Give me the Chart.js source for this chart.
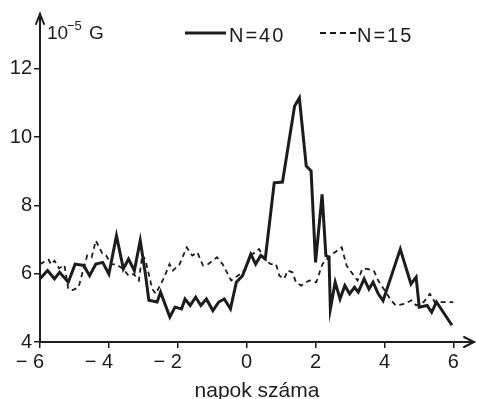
<!DOCTYPE html>
<html>
<head>
<meta charset="utf-8">
<script src="https://cdn.jsdelivr.net/npm/chart.js@4/dist/chart.umd.min.js"></script>
<style>
  html, body { margin: 0; padding: 0; background: #fff; }
  #wrap { width: 477px; height: 399px; position: relative; }
</style>
</head>
<body>
<div id="wrap"><canvas id="chart"></canvas></div>
<script>
const ink = "#1c1c1c";
const fontFamily = "'Liberation Sans', Arial, sans-serif";

// N=40 (solid line), days vs 10^-5 G
const days40 = [-6.00, -5.78, -5.58, -5.43, -5.18, -4.98, -4.73, -4.56, -4.38, -4.18, -4.00, -3.78, -3.58, -3.43, -3.26, -3.09, -2.94, -2.84, -2.60, -2.50, -2.23, -2.08, -1.89, -1.79, -1.64, -1.48, -1.33, -1.17, -0.98, -0.81, -0.65, -0.47, -0.30, -0.12, 0.12, 0.26, 0.41, 0.54, 0.80, 1.04, 1.39, 1.53, 1.73, 1.87, 2.00, 2.19, 2.30, 2.39, 2.43, 2.57, 2.71, 2.85, 2.99, 3.13, 3.24, 3.41, 3.55, 3.67, 3.82, 3.96, 4.46, 4.77, 4.92, 5.01, 5.24, 5.37, 5.51, 5.96];
const values40 = [5.85, 6.09, 5.85, 6.04, 5.75, 6.28, 6.24, 5.94, 6.28, 6.33, 5.99, 7.11, 6.14, 6.43, 6.09, 6.97, 5.99, 5.22, 5.17, 5.46, 4.73, 5.02, 4.97, 5.26, 5.07, 5.31, 5.07, 5.26, 4.92, 5.17, 5.26, 4.97, 5.75, 5.94, 6.57, 6.28, 6.53, 6.43, 8.66, 8.68, 10.90, 11.14, 9.15, 9.01, 6.33, 8.32, 6.53, 6.48, 4.97, 5.75, 5.26, 5.65, 5.41, 5.60, 5.46, 5.85, 5.55, 5.75, 5.41, 5.21, 6.72, 5.70, 5.90, 5.02, 5.07, 4.87, 5.17, 4.49];

// N=15 (dashed line)
const days15 = [-6.00, -5.75, -5.68, -5.58, -5.45, -5.29, -5.18, -5.05, -4.88, -4.78, -4.63, -4.50, -4.38, -4.28, -4.18, -4.08, -3.93, -3.79, -3.58, -3.43, -3.28, -3.13, -3.03, -2.94, -2.74, -2.64, -2.39, -2.24, -2.14, -1.95, -1.74, -1.58, -1.43, -1.27, -1.12, -0.86, -0.70, -0.45, -0.19, -0.03, 0.12, 0.36, 0.51, 0.70, 0.85, 0.95, 1.09, 1.19, 1.33, 1.43, 1.58, 1.73, 1.82, 2.02, 2.20, 2.43, 2.76, 2.90, 3.04, 3.22, 3.36, 3.50, 3.69, 3.82, 4.00, 4.19, 4.33, 4.60, 4.78, 4.92, 5.14, 5.32, 5.46, 5.68, 6.00];
const values15 = [6.28, 6.41, 6.27, 6.38, 6.16, 6.25, 5.55, 5.52, 5.60, 5.98, 6.53, 6.48, 6.97, 6.77, 6.57, 6.53, 6.28, 6.27, 6.14, 5.94, 5.99, 5.80, 6.55, 6.40, 5.55, 5.41, 5.90, 6.28, 6.09, 6.27, 6.77, 6.53, 6.62, 6.24, 6.28, 6.48, 6.28, 5.80, 5.99, 6.14, 6.53, 6.72, 6.43, 6.28, 6.28, 5.94, 5.85, 6.09, 6.04, 5.75, 5.65, 5.75, 5.80, 5.75, 6.28, 6.53, 6.77, 6.24, 6.04, 5.80, 6.14, 6.14, 6.09, 5.80, 5.52, 5.22, 5.07, 5.12, 5.22, 5.07, 5.17, 5.41, 5.17, 5.17, 5.17];

const xTicks = [-6, -4, -2, 0, 2, 4, 6];
const yTicks = [4, 6, 8, 10, 12];
const seriesNames = ["N=40", "N=15"];
const xTitle = "napok száma";
const unitBase = "10";
const unitExp = "\u22125";
const unitName = "G";

const toPoints = (xs, ys) => xs.map((x, i) => ({ x: x, y: ys[i] }));

// negative labels: minus sign hangs left of the digit
function xLabel(v) {
  if (v < 0) return "\u2212 " + Math.abs(v) + "\u2002\u2002";
  return String(v);
}

// arrows at the end of both axes
const axisArrows = {
  id: "axisArrows",
  afterDraw(chart) {
    const { ctx, chartArea } = chart;
    ctx.save();
    ctx.strokeStyle = ink;
    ctx.lineWidth = 2;
    ctx.lineCap = "round";
    ctx.beginPath();
    ctx.moveTo(chartArea.left - 4, chartArea.top + 10);
    ctx.lineTo(chartArea.left, chartArea.top);
    ctx.lineTo(chartArea.left + 4, chartArea.top + 10);
    ctx.moveTo(chartArea.right - 10, chartArea.bottom - 5);
    ctx.lineTo(chartArea.right, chartArea.bottom);
    ctx.lineTo(chartArea.right - 10, chartArea.bottom + 5);
    ctx.stroke();
    ctx.restore();
  },
};

// unit label and legend
const header = {
  id: "header",
  afterDraw(chart) {
    const ctx = chart.ctx;
    ctx.save();
    ctx.fillStyle = ink;
    ctx.textBaseline = "alphabetic";
    ctx.font = "19px " + fontFamily;
    ctx.fillText(unitBase, 47, 39);
    ctx.font = "13px " + fontFamily;
    ctx.fillText(unitExp, 67, 30);
    ctx.font = "19px " + fontFamily;
    ctx.fillText(unitName, 89, 39);

    ctx.strokeStyle = ink;
    ctx.lineWidth = 3;
    ctx.beginPath();
    ctx.moveTo(185, 33);
    ctx.lineTo(226, 33);
    ctx.stroke();
    ctx.lineWidth = 1.8;
    ctx.setLineDash([6, 4]);
    ctx.beginPath();
    ctx.moveTo(320, 33);
    ctx.lineTo(356, 33);
    ctx.stroke();
    ctx.setLineDash([]);

    ctx.font = "20px " + fontFamily;
    ctx.letterSpacing = "2px";
    ctx.fillText(seriesNames[0], 229, 42);
    ctx.fillText(seriesNames[1], 357, 42);
    ctx.restore();
  },
};

const tickFont = { family: fontFamily, size: 20 };

new Chart(document.getElementById("chart"), {
  type: "line",
  data: {
    datasets: [
      {
        label: seriesNames[0],
        data: toPoints(days40, values40),
        borderColor: ink,
        borderWidth: 3,
        pointRadius: 0,
        tension: 0,
      },
      {
        label: seriesNames[1],
        data: toPoints(days15, values15),
        borderColor: ink,
        borderWidth: 1.8,
        borderDash: [5, 4],
        pointRadius: 0,
        tension: 0,
      },
    ],
  },
  options: {
    responsive: true,
    maintainAspectRatio: false,
    animation: false,
    layout: { padding: { top: 8, right: 3, left: 0, bottom: 0 } },
    plugins: { legend: { display: false }, tooltip: { enabled: false } },
    scales: {
      x: {
        type: "linear",
        min: -6,
        max: 6.6,
        afterBuildTicks: (s) => { s.ticks = xTicks.map((v) => ({ value: v })); },
        afterFit: (s) => { s.height = 57; },
        ticks: { callback: xLabel, font: tickFont, color: ink, padding: 2, maxRotation: 0, autoSkip: false },
        grid: { drawOnChartArea: false, tickLength: 6, color: ink, lineWidth: 1.5 },
        border: { color: ink, width: 2 },
        title: { display: true, text: xTitle, color: ink, font: { family: fontFamily, size: 21 }, padding: { top: 0, bottom: -5 } },
      },
      y: {
        min: 4,
        max: 13.6,
        afterBuildTicks: (s) => { s.ticks = yTicks.map((v) => ({ value: v })); },
        afterFit: (s) => { s.width = 40; },
        ticks: { font: tickFont, color: ink, padding: 2 },
        grid: { drawOnChartArea: false, tickLength: 6, color: ink, lineWidth: 1.5 },
        border: { color: ink, width: 2 },
      },
    },
  },
  plugins: [axisArrows, header],
});
</script>
</body>
</html>
